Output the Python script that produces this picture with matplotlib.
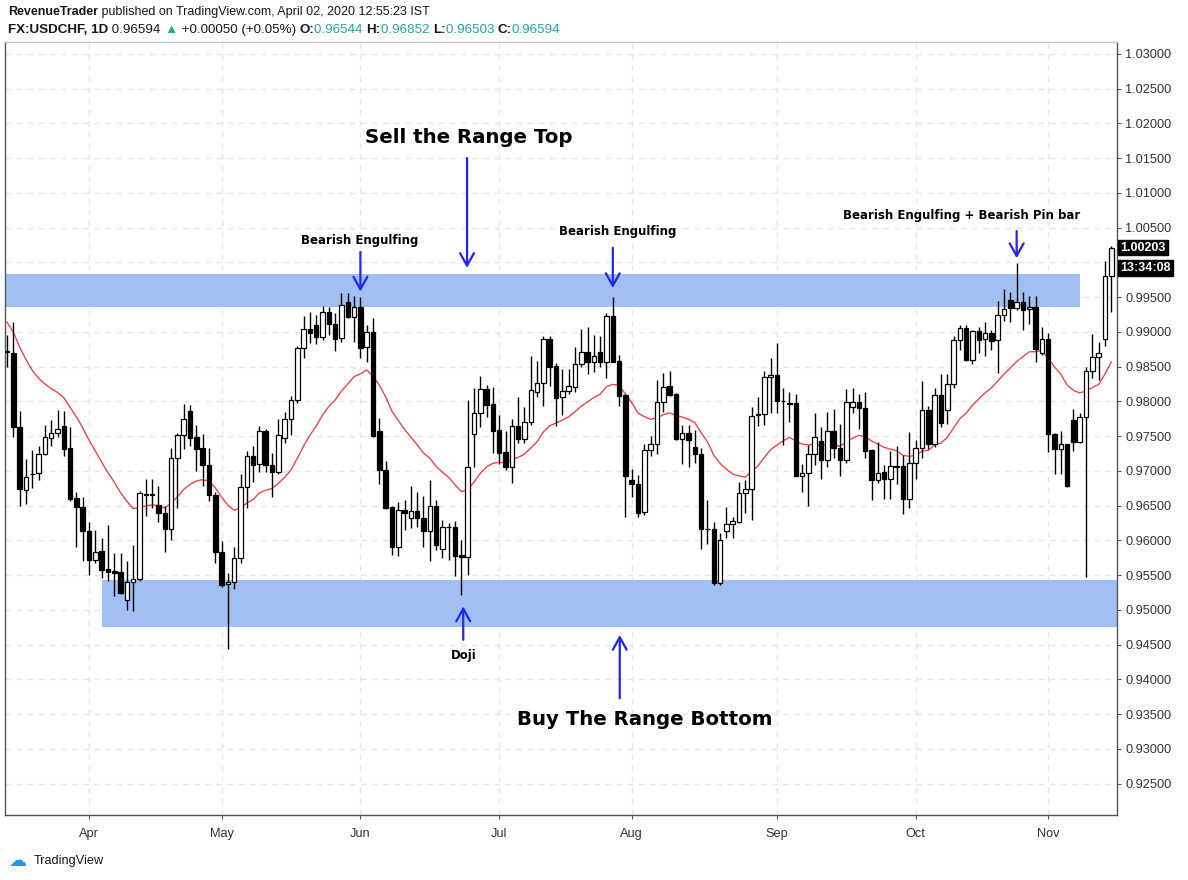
import matplotlib
matplotlib.use('Agg')
import matplotlib.pyplot as plt
import matplotlib.transforms as mtransforms
from matplotlib.patches import Rectangle
import numpy as np
import pandas as pd

# ---------------- data ----------------
start_date = '2016-03-15'
opens = [.9871, .9869, .9763, .9673, .9696, .9697, .9725, .9748, .9754, .9765,
         .9733, .9661, .9648, .9613, .9572, .9585, .9559, .9556, .9555, .9515,
         .9540, .9544, .9666, .9667, .9651, .9639, .9616, .9718, .9751, .9786,
         .9749, .9733, .9709, .9665, .9583, .9537, .9540, .9574, .9677, .9722,
         .9710, .9758, .9708, .9699, .9747, .9774, .9802, .9877, .9904, .9910,
         .9892, .9929, .9912, .9891, .9943, .9921, .9936, .9878, .9900, .9757,
         .9702, .9648, .9590, .9644, .9632, .9642, .9632, .9613, .9650, .9587,
         .9619, .9619, .9579, .9576, .9753, .9783, .9818, .9796, .9759, .9727,
         .9705, .9764, .9746, .9770, .9813, .9826, .9890, .9851, .9806, .9815,
         .9821, .9854, .9871, .9856, .9871, .9856, .9923, .9858, .9809, .9687,
         .9681, .9641, .9730, .9738, .9799, .9822, .9811, .9746, .9754, .9735,
         .9725, .9616, .9616, .9539, .9613, .9623, .9627, .9668, .9674, .9782,
         .9782, .9835, .9838, .9800, .9798, .9798, .9693, .9697, .9724, .9743,
         .9715, .9757, .9733, .9715, .9792, .9799, .9790, .9730, .9687, .9698,
         .9689, .9707, .9707, .9659, .9711, .9733, .9788, .9739, .9809, .9787,
         .9825, .9888, .9905, .9859, .9901, .9890, .9898, .9888, .9924, .9946,
         .9934, .9943, .9933, .9936, .9869, .9890, .9753, .9732, .9738, .9773,
         .9742, .9777, .9843, .9864, .9890, .9981]
highs = [.9896, .9914, .9786, .9717, .9730, .9736, .9766, .9773, .9788, .9786,
         .9763, .9670, .9663, .9626, .9615, .9603, .9622, .9582, .9582, .9571,
         .9594, .9671, .9689, .9689, .9678, .9650, .9733, .9754, .9796, .9795,
         .9766, .9753, .9733, .9669, .9599, .9553, .9590, .9696, .9729, .9736,
         .9764, .9760, .9726, .9775, .9785, .9808, .9880, .9923, .9928, .9924,
         .9937, .9936, .9927, .9956, .9956, .9952, .9950, .9910, .9920, .9776,
         .9714, .9649, .9655, .9658, .9678, .9669, .9664, .9687, .9658, .9630,
         .9625, .9628, .9601, .9802, .9819, .9837, .9824, .9820, .9781, .9758,
         .9775, .9806, .9792, .9866, .9858, .9894, .9894, .9855, .9847, .9846,
         .9878, .9904, .9907, .9896, .9894, .9927, .9950, .9867, .9810, .9703,
         .9694, .9738, .9750, .9831, .9841, .9844, .9812, .9766, .9766, .9759,
         .9733, .9658, .9626, .9610, .9648, .9634, .9684, .9687, .9792, .9806,
         .9843, .9862, .9884, .9819, .9813, .9810, .9710, .9737, .9784, .9763,
         .9785, .9789, .9767, .9818, .9819, .9810, .9814, .9731, .9741, .9709,
         .9729, .9736, .9723, .9756, .9745, .9830, .9794, .9819, .9840, .9840,
         .9894, .9910, .9910, .9903, .9907, .9914, .9903, .9944, .9961, .9957,
         .9999, .9958, .9952, .9951, .9907, .9898, .9754, .9758, .9739, .9789,
         .9783, .9849, .9897, .9885, 1.0002, 1.0024]
lows = [.9850, .9749, .9650, .9653, .9675, .9687, .9723, .9736, .9749, .9722,
        .9656, .9591, .9571, .9550, .9567, .9546, .9542, .9520, .9523, .9500,
        .9498, .9542, .9635, .9647, .9627, .9584, .9601, .9646, .9731, .9736,
        .9700, .9679, .9656, .9568, .9533, .9444, .9530, .9568, .9646, .9684,
        .9698, .9698, .9662, .9695, .9740, .9751, .9797, .9862, .9884, .9882,
        .9888, .9896, .9872, .9885, .9920, .9886, .9862, .9857, .9749, .9681,
        .9645, .9579, .9577, .9615, .9618, .9620, .9590, .9571, .9586, .9574,
        .9572, .9549, .9521, .9550, .9705, .9763, .9778, .9726, .9710, .9701,
        .9683, .9740, .9740, .9766, .9807, .9794, .9822, .9764, .9781, .9810,
        .9814, .9849, .9839, .9842, .9849, .9834, .9857, .9793, .9634, .9663,
        .9633, .9637, .9721, .9725, .9785, .9808, .9745, .9710, .9706, .9712,
        .9587, .9595, .9536, .9536, .9604, .9603, .9625, .9640, .9630, .9764,
        .9766, .9783, .9784, .9737, .9771, .9692, .9669, .9649, .9709, .9689,
        .9705, .9718, .9693, .9711, .9783, .9761, .9719, .9658, .9683, .9660,
        .9660, .9681, .9638, .9647, .9689, .9718, .9732, .9735, .9763, .9768,
        .9819, .9874, .9858, .9854, .9870, .9866, .9874, .9841, .9915, .9914,
        .9931, .9902, .9911, .9857, .9867, .9727, .9695, .9695, .9677, .9729,
        .9740, .9548, .9833, .9831, .9880, .9928]
closes = [.9872, .9763, .9674, .9691, .9695, .9725, .9749, .9754, .9760, .9732,
          .9660, .9648, .9613, .9572, .9584, .9558, .9555, .9553, .9525, .9540,
          .9544, .9668, .9667, .9666, .9639, .9616, .9718, .9751, .9774, .9748,
          .9732, .9708, .9665, .9583, .9536, .9540, .9574, .9677, .9722, .9709,
          .9757, .9708, .9699, .9751, .9774, .9802, .9877, .9904, .9898, .9892,
          .9929, .9911, .9890, .9938, .9921, .9936, .9877, .9900, .9750, .9702,
          .9647, .9590, .9644, .9639, .9642, .9632, .9613, .9649, .9594, .9619,
          .9620, .9578, .9576, .9705, .9783, .9818, .9795, .9758, .9726, .9705,
          .9764, .9746, .9770, .9816, .9826, .9890, .9850, .9805, .9815, .9822,
          .9854, .9871, .9856, .9866, .9856, .9923, .9857, .9808, .9692, .9681,
          .9640, .9730, .9738, .9799, .9821, .9809, .9746, .9754, .9744, .9725,
          .9616, .9617, .9539, .9600, .9623, .9628, .9668, .9674, .9779, .9780,
          .9835, .9838, .9800, .9801, .9796, .9693, .9697, .9724, .9749, .9715,
          .9757, .9733, .9715, .9799, .9799, .9790, .9729, .9687, .9697, .9688,
          .9707, .9706, .9659, .9711, .9733, .9788, .9739, .9809, .9769, .9825,
          .9888, .9905, .9859, .9901, .9888, .9898, .9887, .9924, .9933, .9934,
          .9943, .9932, .9936, .9875, .9890, .9753, .9732, .9738, .9678, .9742,
          .9777, .9843, .9864, .9870, .9981, 1.00203]

ema_length = 20
ema_start = 0.9914

price_tick_values = [1.030, 1.025, 1.020, 1.015, 1.010, 1.005, 1.000, 0.995,
                     0.990, 0.985, 0.980, 0.975, 0.970, 0.965, 0.960, 0.955,
                     0.950, 0.945, 0.940, 0.935, 0.930, 0.925]
price_tick_labels = ['1.03000', '1.02500', '1.02000', '1.01500', '1.01000',
                     '1.00500', '1.00000', '0.99500', '0.99000', '0.98500',
                     '0.98000', '0.97500', '0.97000', '0.96500', '0.96000',
                     '0.95500', '0.95000', '0.94500', '0.94000', '0.93500',
                     '0.93000', '0.92500']
hidden_tick_label = '1.00000'   # covered by the last-price marker in the chart

top_zone = (0.99355, 0.99835)
bottom_zone = (0.9476, 0.9543)
last_price_label = '1.00203'
countdown_label = '13:34:08'

# ---------------- figure ----------------
W, H = 1188, 880
fig = plt.figure(figsize=(W / 100, H / 100), dpi=100)
fig.patch.set_facecolor('white')
ax = fig.add_axes([5 / W, 65 / H, 1112 / W, 773 / H])

n = len(closes)
x = np.arange(n)
o = np.array(opens); h = np.array(highs); l = np.array(lows); c = np.array(closes)
dates = pd.bdate_range(start_date, periods=n)

ax.set_xlim(-0.32, 175.9)
ax.set_ylim(0.9205, 1.0317)

# grid
grid_col = '#e3e5ea'
month_idx = [i for i in range(1, n) if dates[i].month != dates[i - 1].month]
month_lab = [dates[i].strftime('%b') for i in month_idx]
for yv in price_tick_values:
    ax.axhline(yv, color=grid_col, lw=1, ls=(0, (4, 4)), zorder=0)
for xi in month_idx:
    ax.axvline(xi, color=grid_col, lw=1, ls=(0, (4, 4)), zorder=0)

# zones
zone_col = '#9dbcf2'
ax.add_patch(Rectangle((-0.32, top_zone[0]), 170.0 + 0.32, top_zone[1] - top_zone[0],
                       facecolor=zone_col, edgecolor='none', alpha=0.95, zorder=1))
ax.add_patch(Rectangle((15.06, bottom_zone[0]), 175.9 - 15.06, bottom_zone[1] - bottom_zone[0],
                       facecolor=zone_col, edgecolor='none', alpha=0.95, zorder=1))

# EMA
alpha = 2.0 / (ema_length + 1)
ema = [ema_start]
for cv in closes[1:]:
    ema.append(ema[-1] + alpha * (cv - ema[-1]))
ax.plot(x, ema, color='#f0454a', lw=1.0, zorder=2)

# candles
up = c >= o
ax.vlines(x, l, h, color='black', lw=1.0, zorder=3)
bottoms = np.minimum(o, c)
heights = np.maximum(np.abs(c - o), 0.00004)
ax.bar(x, heights, bottom=bottoms, width=0.72,
       color=np.where(up, 'white', 'black'), edgecolor='black', linewidth=0.9, zorder=4)

# axes styling
ax.yaxis.tick_right()
ax.set_yticks(price_tick_values)
ax.set_yticklabels(price_tick_labels)
ax.set_xticks(month_idx)
ax.set_xticklabels(month_lab)
ax.tick_params(axis='y', length=3, color='#555555', labelsize=9.2, labelcolor='#333333', pad=3)
ax.tick_params(axis='x', length=3, color='#555555', labelsize=9.2, labelcolor='#333333', pad=6)
for lab in ax.get_yticklabels() + ax.get_xticklabels():
    lab.set_fontfamily('Liberation Sans')
for lab in ax.get_yticklabels():
    if lab.get_text() == hidden_tick_label:
        lab.set_visible(False)
for s in ['left', 'right', 'bottom']:
    ax.spines[s].set_color('#555555')
    ax.spines[s].set_linewidth(1)
ax.spines['top'].set_color('#c8c8c8')
ax.spines['top'].set_linewidth(1)

# price label / countdown
tr = mtransforms.blended_transform_factory(ax.transAxes, ax.transData)
ax.text(1.003, 1.00213, last_price_label, transform=tr, ha='left', va='center',
        color='white', fontsize=9.0, family='Liberation Sans', fontweight='bold',
        bbox=dict(boxstyle='square,pad=0.15', fc='black', ec='black'), zorder=10, clip_on=False)
ax.text(1.003, 0.99915, countdown_label, transform=tr, ha='left', va='center',
        color='white', fontsize=9.0, family='Liberation Sans', fontweight='bold',
        bbox=dict(boxstyle='square,pad=0.15', fc='black', ec='black'), zorder=10, clip_on=False)

# annotations
blue = '#2323f5'
def arrow(xi, y_tail, y_tip):
    ax.annotate('', xy=(xi, y_tip), xytext=(xi, y_tail),
                arrowprops=dict(arrowstyle='->,head_length=0.45,head_width=0.25',
                                color=blue, lw=1.6, mutation_scale=20,
                                shrinkA=0, shrinkB=0), zorder=8)

big = 14.2
small = 8.5
ax.text(73.2, 1.0179, 'Sell the Range Top', ha='center', va='center',
        fontsize=big, fontweight='bold', family='DejaVu Sans', color='black')
arrow(72.9, 1.0150, 0.9992)
ax.text(55.9, 1.0031, 'Bearish Engulfing', ha='center', va='center',
        fontsize=small, fontweight='bold', family='DejaVu Sans', color='black')
arrow(56.0, 1.0015, 0.9958)
ax.text(96.8, 1.0044, 'Bearish Engulfing', ha='center', va='center',
        fontsize=small, fontweight='bold', family='DejaVu Sans', color='black')
arrow(96.0, 1.0021, 0.9963)
ax.text(151.3, 1.0068, 'Bearish Engulfing + Bearish Pin bar', ha='center', va='center',
        fontsize=small, fontweight='bold', family='DejaVu Sans', color='black')
arrow(160.0, 1.0045, 1.0006)
ax.text(72.3, 0.9434, 'Doji', ha='center', va='center',
        fontsize=small, fontweight='bold', family='DejaVu Sans', color='black')
arrow(72.3, 0.9457, 0.9505)
arrow(97.1, 0.9373, 0.9464)
ax.text(101.1, 0.93417, 'Buy The Range Bottom', ha='center', va='center',
        fontsize=big, fontweight='bold', family='DejaVu Sans', color='black')

# header
renderer = fig.canvas.get_renderer()
def run(x_px, y_px, parts, size):
    xx = x_px
    for s, kw in parts:
        t = fig.text(xx / W, 1 - y_px / H, s, ha='left', va='center',
                     family=['Liberation Sans', 'DejaVu Sans'], fontsize=size, **kw)
        xx += t.get_window_extent(renderer).width

dark = '#131722'
teal = '#26a69a'
run(8, 12, [('RevenueTrader', dict(fontweight='bold', color=dark)),
            (' published on TradingView.com, April 02, 2020 12:55:23 IST', dict(color=dark))], 9.0)
run(8, 30, [('FX:USDCHF, 1D', dict(fontweight='bold', color=dark)),
            (' 0.96594 ', dict(color=dark)),
            ('\u25B2', dict(color=teal)),
            (' +0.00050 (+0.05%) ', dict(color=dark)),
            ('O:', dict(fontweight='bold', color=dark)),
            ('0.96544 ', dict(color=teal)),
            ('H:', dict(fontweight='bold', color=dark)),
            ('0.96852 ', dict(color=teal)),
            ('L:', dict(fontweight='bold', color=dark)),
            ('0.96503 ', dict(color=teal)),
            ('C:', dict(fontweight='bold', color=dark)),
            ('0.96594', dict(color=teal))], 9.6)

# footer logo
fig.text(8 / W, 1 - 861 / H, '\u2601', ha='left', va='center', fontsize=13,
         color='#2196f3', family='DejaVu Sans')
fig.text(34 / W, 1 - 861 / H, 'TradingView', ha='left', va='center', fontsize=9.2,
         color=dark, family='Liberation Sans')

fig.savefig('out.png', dpi=100, facecolor='white')
